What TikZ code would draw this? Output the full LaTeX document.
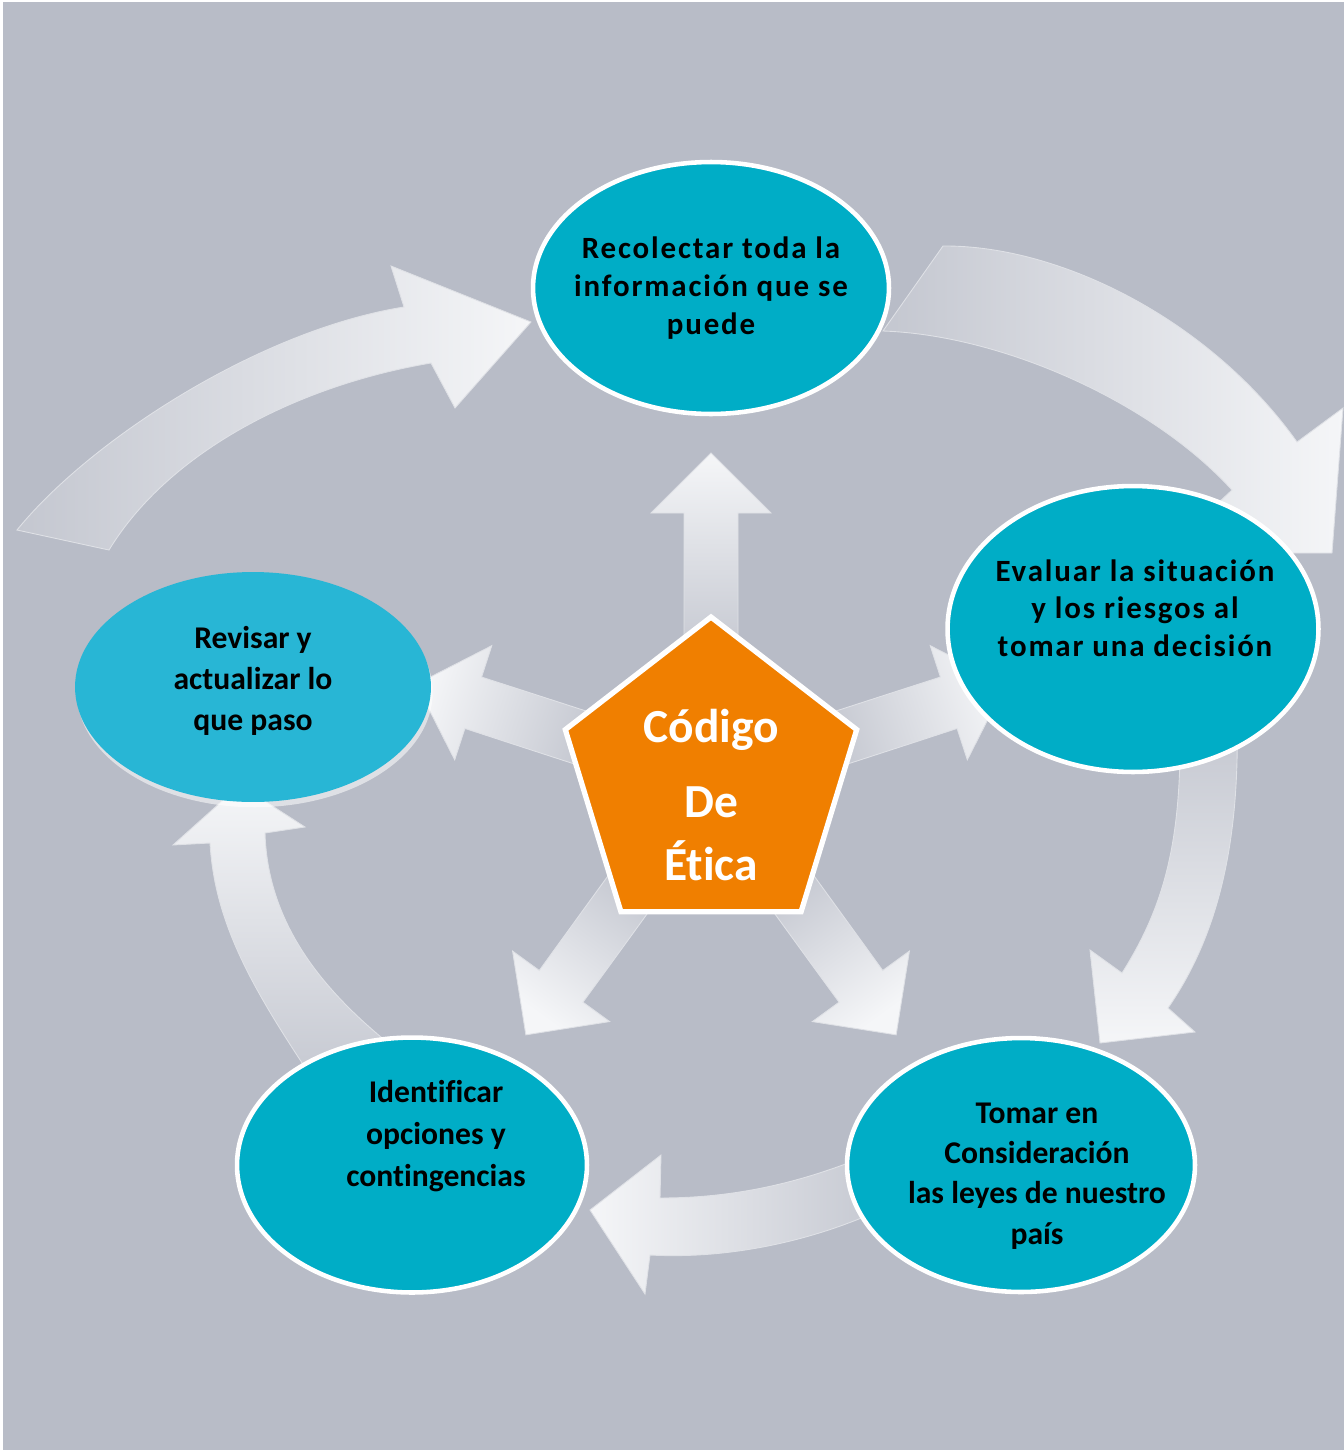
\documentclass[tikz,border=0pt]{standalone}
\usepackage{fontspec}
\setmainfont{Carlito}[Ligatures=NoCommon]
\usepackage{tikz}
\usetikzlibrary{calc,shapes.geometric,shadows}

\definecolor{bgGray}{HTML}{B8BCC7}
\definecolor{tealFill}{HTML}{00ADC6}
\definecolor{skyFill}{HTML}{28B6D5}
\definecolor{codeOrange}{HTML}{F07F00}
\definecolor{arrowHead}{HTML}{F5F6F8}
\definecolor{arrowTail}{HTML}{C4C7D0}

\begin{document}
\begin{tikzpicture}[x=0.02cm,y=-0.02cm,
    bubble/.style={ellipse, fill=tealFill, draw=white, line width=2.6pt, inner sep=0pt},
    bubbletext/.style={align=center, inner sep=0pt, font=\fontsize{18}{23.5}\selectfont\bfseries},
    widetext/.style={align=center, inner sep=0pt, font=\fontsize{17.6}{21.4}\selectfont\bfseries\addfontfeature{LetterSpace=6}},
    blockarrow/.style={draw=white!55!bgGray, line width=0.5pt}]

  %% Background
  \useasboundingbox (0,0) rectangle (1344,1450);
  \fill[bgGray] (3,2) rectangle (1344,1450);

  %% Curved arrows of the cycle
  \shadedraw[blockarrow, left color=arrowTail, right color=arrowHead]
    (17,530) .. controls (90,440) and (260,330) .. (404,307)
    -- (391,266) -- (531,322) -- (455,408) -- (431,363)
    .. controls (300,385) and (170,450) .. (109,550) -- cycle;
  \shadedraw[blockarrow, left color=arrowTail, right color=arrowHead]
    (943,246) .. controls (1060,245) and (1210,320) .. (1297,442)
    -- (1343,408) -- (1332,553) -- (1262,553) -- (1200,520) -- (1232,490)
    .. controls (1150,400) and (1000,335) .. (883,331) -- cycle;
  \shadedraw[blockarrow, top color=arrowTail, bottom color=arrowHead]
    (1237,720) .. controls (1240,850) and (1215,940) .. (1168,1008)
    -- (1195,1032) -- (1100,1043) -- (1090,950) -- (1122,973)
    .. controls (1165,905) and (1182,840) .. (1180,720) -- cycle;
  \shadedraw[blockarrow, left color=arrowHead, right color=arrowTail]
    (880,1150) .. controls (800,1185) and (730,1198) .. (660,1198)
    -- (661,1155) -- (590,1210) -- (645,1294) -- (650,1255)
    .. controls (740,1260) and (830,1235) .. (890,1205) -- cycle;
  \shadedraw[blockarrow, top color=arrowHead, bottom color=arrowTail]
    (320,1090) .. controls (260,1000) and (215,930) .. (210,843)
    -- (173,845) -- (240,785) -- (305,827) -- (265,833)
    .. controls (268,930) and (330,1000) .. (410,1060) -- cycle;

  %% Straight arrows out of the centre
  \coordinate (CENTER) at (711,780);
  \foreach \a/\b/\s in {-90/267/0,-18/250/-72,198/250/72,126/255/144,54/255/-144}
  {
    \shadedraw[blockarrow, top color=arrowHead, bottom color=arrowTail, shading angle=\s]
      ($(CENTER)+(\a:120)+(\a+90:27)$) -- ($(CENTER)+(\a:\b)+(\a+90:27)$)
      -- ($(CENTER)+(\a:\b)+(\a+90:60)$) -- ($(CENTER)+(\a:\b)+(\a:60)$)
      -- ($(CENTER)+(\a:\b)+(\a-90:60)$) -- ($(CENTER)+(\a:\b)+(\a-90:27)$)
      -- ($(CENTER)+(\a:120)+(\a-90:27)$) -- cycle;
  }

  %% Centre pentagon
  \node[regular polygon, regular polygon sides=5, minimum size=6.52cm, inner sep=0pt,
        xscale=0.94, transform shape,
        fill=codeOrange, draw=white, line width=3pt] (CODE) at (CENTER) {};
  \node[align=center, inner sep=0pt, text=white,
        font=\fontsize{27}{35.7}\selectfont\bfseries] (CODEtxt) at ($(CENTER)+(0,15)$)
        {Código\\[6.8pt]De\\Ética};

  %% The five steps
  \node[bubble, minimum width=7.12cm, minimum height=5.04cm] (RECOLECTAR) at (711,288) {};
  \node[bubble, minimum width=7.42cm, minimum height=5.72cm] (EVALUAR) at (1133,629) {};
  \node[bubble, minimum width=6.96cm, minimum height=5.08cm] (TOMAR) at (1021,1165) {};
  \node[bubble, minimum width=7.00cm, minimum height=5.10cm] (IDENTIFICAR) at (412,1165) {};
  \node[bubble, minimum width=7.12cm, minimum height=4.60cm, fill=skyFill, draw=none,
        drop shadow={shadow xshift=1pt, shadow yshift=-3pt, fill=white, opacity=0.55}]
        (REVISAR) at (253,687) {};

  \node[widetext] (RECOtxt) at (RECOLECTAR) {Recolectar toda la\\información que se\\puede};
  \node[widetext] (EVALtxt) at ($(EVALUAR)+(2,-21)$) {Evaluar la situación\\y los riesgos al\\tomar una decisión};
  \node[bubbletext, font=\fontsize{18}{23}\selectfont\bfseries] (TOMARtxt) at ($(TOMAR)+(16,11)$)
        {Tomar en\\Consideración\\las leyes de nuestro\\país};
  \node[bubbletext, font=\fontsize{18}{24}\selectfont\bfseries] (IDENTtxt) at ($(IDENTIFICAR)+(24,-29)$)
        {Identificar\\opciones y\\contingencias};
  \node[bubbletext] (REVItxt) at ($(REVISAR)+(0,-6)$) {Revisar y\\actualizar lo\\que paso};
\end{tikzpicture}
\end{document}
